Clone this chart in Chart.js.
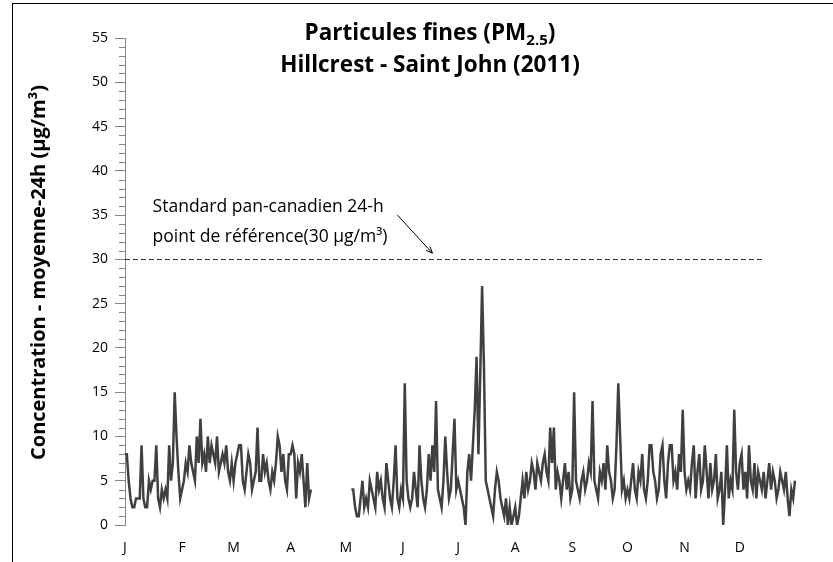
<!DOCTYPE html>
<html>
<head>
<meta charset="utf-8">
<script src="https://cdn.jsdelivr.net/npm/chart.js@4"></script>
<style>
  html, body { margin: 0; padding: 0; background: #fff; }
  #wrap { position: relative; width: 833px; height: 562px; overflow: hidden; }
  #frame { position: absolute; left: 12px; top: 3px; width: 840px; height: 620px; border: 1.5px solid #000; box-sizing: border-box; }
  #title { position: absolute; left: 200px; top: 16px; width: 460px; text-align: center;
           font: bold 22.5px 'Open Sans', sans-serif; line-height: 32px; color: #000; }
  #title sub { font-size: 15px; vertical-align: -5px; line-height: 0; }
  canvas { position: absolute; left: 0; top: 0; }
</style>
</head>
<body>
<div id="wrap">
  <div id="frame"></div>
  <canvas id="pm25Chart" width="833" height="562"></canvas>
  <div id="title">Particules fines (PM<sub>2.5</sub>)<br>Hillcrest - Saint John (2011)</div>
</div>
<script>
// month axis
const monthLetters = ['J', 'F', 'M', 'A', 'M', 'J', 'J', 'A', 'S', 'O', 'N', 'D'];
const monthDays = [31, 28, 31, 30, 31, 30, 31, 31, 30, 31, 30, 31];
const yTicks = [0, 5, 10, 15, 20, 25, 30, 35, 40, 45, 50, 55];

// daily 24h means (µg/m3), one array per month, null = no data
const jan = [8, 8, 5, 3, 2, 2, 3, 3, 3, 9, 3, 2, 2, 5, 4, 5, 5, 9, 3, 2, 4, 3, 4, 3, 9, 5, 7, 15, 10, 6, 3];
const feb = [4, 5, 7, 6, 9, 7, 6, 5, 10, 7, 12, 7, 8, 6, 10, 7, 9, 8, 7, 10, 6, 7, 8, 7, 9, 6, 5, 7];
const mar = [5, 7, 8, 9, 9, 5, 4, 6, 8, 7, 4, 5, 6, 11, 5, 5, 8, 6, 7, 5, 4, 6, 5, 7, 10, 9, 6, 8, 5, 4, 8];
const apr = [8, 9, 8, 3, 7, 6, 8, 5, 2, 7, 3, 4, null, null, null, null, null, null, null, null, null, null, null, null, null, null, null, null, null, null];
const may = [null, null, null, 4, 4, 2, 1, 1, 3, 5, 2, 3, 2, 5, 4, 3, 2, 6, 4, 5, 3, 2, 7, 5, 3, 2, 5, 9, 3, 2, 4];
const jun = [3, 16, 5, 3, 2, 3, 6, 4, 2, 9, 5, 3, 2, 4, 8, 5, 9, 6, 14, 4, 3, 2, 5, 10, 6, 3, 4, 8, 12, 4];
const jul = [5, 4, 3, 2, 0, 6, 8, 5, 9, 13, 19, 8, 17, 27, 18, 5, 4, 3, 2, 1, 4, 6, 5, 3, 2, 1, 3, 0, 2, 0, 1];
const aug = [2, 0, 1, 3, 5, 3, 6, 4, 5, 7, 6, 4, 7, 6, 5, 7, 8, 6, 5, 11, 7, 11, 4, 6, 5, 3, 5, 7, 4, 6, 3];
const sep = [4, 15, 5, 4, 3, 5, 6, 4, 5, 7, 6, 14, 5, 4, 3, 6, 5, 7, 4, 9, 6, 5, 3, 4, 9, 16, 10, 4, 5, 3];
const oct = [4, 3, 5, 7, 4, 3, 6, 5, 8, 4, 3, 5, 9, 9, 6, 5, 3, 4, 8, 9, 5, 3, 7, 9, 9, 5, 6, 4, 8, 6, 13];
const nov = [6, 4, 5, 4, 7, 9, 3, 6, 8, 4, 5, 9, 6, 3, 7, 4, 5, 8, 3, 4, 6, 0, 4, 9, 3, 5, 4, 13, 6, 4];
const dec = [7, 8, 4, 6, 3, 9, 5, 4, 7, 3, 6, 5, 4, 6, 3, 5, 7, 4, 6, 5, 3, 4, 6, 5, 4, 6, 3, 1, 4, 3, 5];

// pan-Canadian standard reference (dashed line drawn up to standardEndDay)
const standardValue = 30;
const standardEndDay = 346.5;
const standardText = ['Standard pan-canadien 24-h', 'point de référence(30 µg/m³)'];
const yTitle = 'Concentration - moyenne-24h (µg/m³)';

const pm25 = [].concat(jan, feb, mar, apr, may, jun, jul, aug, sep, oct, nov, dec);

const dayLabels = [];
const monthStart = {};
monthDays.forEach((n, m) => {
    monthStart[dayLabels.length] = monthLetters[m];
    for (let d = 1; d <= n; d++) dayLabels.push(`${m + 1}/${d}`);
});

const axisGrey = '#868686';
const fontFamily = "'Open Sans', sans-serif";

const extras = {
    id: 'extras',
    afterDatasetsDraw(chart) {
        const { ctx, chartArea, scales: { x, y } } = chart;
        ctx.save();

        // minor ticks on the value axis
        ctx.strokeStyle = axisGrey;
        ctx.lineWidth = 1;
        ctx.beginPath();
        y.ticks.forEach((t) => {
            if (yTicks.includes(t.value)) return;
            const py = Math.round(y.getPixelForValue(t.value)) + 0.5;
            ctx.moveTo(chartArea.left - 6, py);
            ctx.lineTo(chartArea.left, py);
        });
        ctx.stroke();

        // axis title
        ctx.fillStyle = '#000';
        ctx.font = `bold 20px ${fontFamily}`;
        ctx.textAlign = 'center';
        ctx.textBaseline = 'middle';
        ctx.translate(39, (y.getPixelForValue(0) + y.getPixelForValue(55)) / 2 - 9);
        ctx.rotate(-Math.PI / 2);
        ctx.fillText(yTitle, 0, 0);
        ctx.setTransform(1, 0, 0, 1, 0, 0);

        // dashed standard line
        const yPx = Math.round(y.getPixelForValue(standardValue)) + 0.5;
        ctx.strokeStyle = '#333';
        ctx.setLineDash([5, 3]);
        ctx.beginPath();
        ctx.moveTo(chartArea.left, yPx);
        ctx.lineTo(x.getPixelForValue(standardEndDay), yPx);
        ctx.stroke();
        ctx.setLineDash([]);

        // label
        ctx.font = `17.5px ${fontFamily}`;
        ctx.textAlign = 'left';
        const tx = x.getPixelForValue(15);
        ctx.fillText(standardText[0], tx, y.getPixelForValue(35.9));
        ctx.fillText(standardText[1], tx, y.getPixelForValue(32.5));

        // arrow
        const x0 = x.getPixelForValue(148), y0 = y.getPixelForValue(35.0);
        const x1 = x.getPixelForValue(167), y1 = y.getPixelForValue(30.7);
        const ang = Math.atan2(y1 - y0, x1 - x0);
        ctx.strokeStyle = '#000';
        ctx.beginPath();
        ctx.moveTo(x0, y0);
        ctx.lineTo(x1, y1);
        ctx.moveTo(x1 - 7 * Math.cos(ang - 0.4), y1 - 7 * Math.sin(ang - 0.4));
        ctx.lineTo(x1, y1);
        ctx.lineTo(x1 - 7 * Math.cos(ang + 0.4), y1 - 7 * Math.sin(ang + 0.4));
        ctx.stroke();
        ctx.restore();
    }
};

new Chart(document.getElementById('pm25Chart'), {
    type: 'line',
    data: {
        labels: dayLabels,
        datasets: [{
            data: pm25,
            borderColor: '#404040',
            borderWidth: 2.5,
            pointRadius: 0,
            tension: 0,
            spanGaps: false
        }]
    },
    options: {
        responsive: false,
        animation: false,
        layout: { padding: { left: 13, top: 38, right: 38, bottom: 0 } },
        plugins: { legend: { display: false }, title: { display: false }, tooltip: { enabled: false } },
        scales: {
            x: {
                grid: { display: false },
                border: { display: false },
                ticks: {
                    autoSkip: false,
                    maxRotation: 0,
                    padding: 7,
                    color: '#000',
                    font: { family: fontFamily, size: 14 },
                    callback: (v, i) => monthStart[i] || ''
                },
                afterFit: (s) => { s.height = 37; }
            },
            y: {
                min: 0,
                max: 55,
                afterBuildTicks: (s) => {
                    s.ticks = [];
                    for (let v = 0; v <= 55; v++) s.ticks.push({ value: v });
                },
                ticks: {
                    autoSkip: false,
                    padding: 7,
                    color: '#000',
                    font: { family: fontFamily, size: 14 },
                    callback: (v) => (yTicks.includes(v) ? v : '')
                },
                grid: {
                    drawOnChartArea: false,
                    tickLength: 10,
                    color: (c) => (c.tick && yTicks.includes(c.tick.value) ? axisGrey : 'rgba(0,0,0,0)')
                },
                border: { color: axisGrey },
                afterFit: (s) => { s.width = 112; }
            }
        }
    },
    plugins: [extras]
});
</script>
</body>
</html>
